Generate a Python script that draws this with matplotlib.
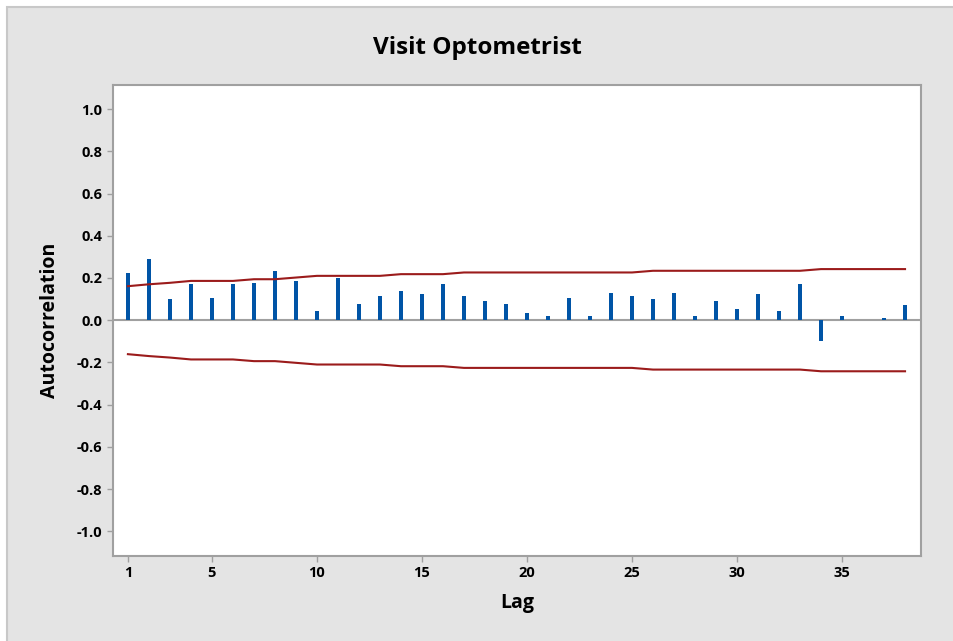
import numpy as np
import matplotlib.pyplot as plt
from matplotlib.patches import Rectangle

# ---------------------------------------------------------------
# data: autocorrelation per lag and the upper significance limit
# ---------------------------------------------------------------
lags = list(range(1, 39))
acf = [0.224, 0.288, 0.098, 0.171, 0.106, 0.171, 0.177, 0.232, 0.185, 0.044,
       0.200, 0.076, 0.114, 0.137, 0.123, 0.171, 0.114, 0.090, 0.076, 0.035,
       0.019, 0.106, 0.019, 0.129, 0.114, 0.098, 0.129, 0.019, 0.090, 0.051,
       0.122, 0.043, 0.171, -0.098, 0.019, 0.0, 0.011, 0.074]
limit = [0.161, 0.170, 0.177, 0.186, 0.186, 0.186, 0.194, 0.194, 0.202, 0.210,
         0.210, 0.210, 0.210, 0.218, 0.218, 0.218, 0.226, 0.226, 0.226, 0.226,
         0.226, 0.226, 0.226, 0.226, 0.226, 0.234, 0.234, 0.234, 0.234, 0.234,
         0.234, 0.234, 0.234, 0.242, 0.242, 0.242, 0.242, 0.242]
xticks = [1, 5, 10, 15, 20, 25, 30, 35]
yticks = [-1.0, -0.8, -0.6, -0.4, -0.2, 0.0, 0.2, 0.4, 0.6, 0.8, 1.0]

plt.rcParams['font.family'] = ['Open Sans', 'DejaVu Sans']
plt.rcParams['axes.unicode_minus'] = False

W, H = 954, 641
fig = plt.figure(figsize=(W / 100, H / 100), dpi=100)
fig.patch.set_facecolor('white')
# grey panel behind everything, border only on top and left
fig.patches.append(Rectangle((7 / W, -0.1), 1.2, 1.1 - 7 / H,
                             transform=fig.transFigure,
                             facecolor='#e4e4e4', edgecolor='#c8c8c8', lw=1.5,
                             zorder=-10))

ax = fig.add_axes([113 / W, 1 - 556 / H, (921 - 113) / W, (556 - 85) / H])
ax.set_facecolor('white')

ax.axhline(0, color='#a0a0a0', lw=1.5, zorder=1)
ax.bar(lags, acf, width=0.2, color='#0054a6', zorder=2)
ax.plot(lags, limit, color='#9b1b1b', lw=1.5, zorder=3)
ax.plot(lags, [-v for v in limit], color='#9b1b1b', lw=1.5, zorder=3)

ax.set_xlim(0.29, 38.76)
ax.set_ylim(-1.117, 1.114)
ax.set_xticks(xticks)
ax.set_yticks(yticks)
ax.set_yticklabels([f'{v:.1f}' for v in yticks])

for s in ax.spines.values():
    s.set_color('#a0a0a0')
    s.set_linewidth(1.5)
ax.tick_params(colors='#a0a0a0', length=4, width=1, labelcolor='black',
               labelsize=10.5)
for lab in ax.get_xticklabels() + ax.get_yticklabels():
    lab.set_fontweight('bold')

ax.set_xlabel('Lag', fontsize=14, fontweight='bold', labelpad=9)
ax.set_ylabel('Autocorrelation', fontsize=14, fontweight='bold', labelpad=12)
fig.text(0.5, 1 - 48 / H, 'Visit Optometrist', ha='center', va='center',
         fontsize=17.5, fontweight='bold')

fig.savefig('out.png', dpi=100, facecolor=fig.get_facecolor())
